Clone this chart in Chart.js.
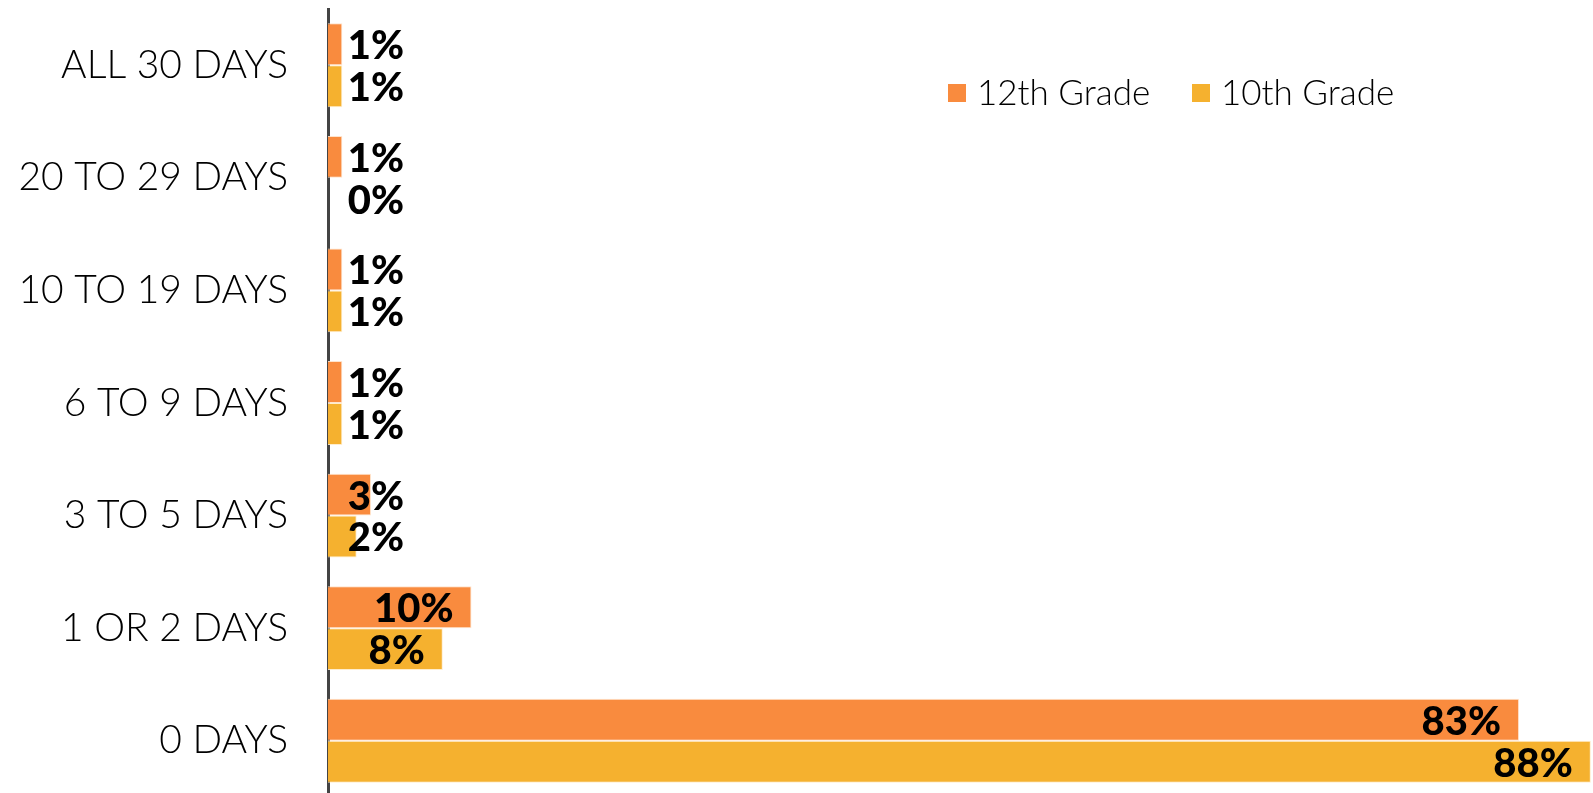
<!DOCTYPE html>
<html>
<head>
<meta charset="utf-8">
<script src="https://cdn.jsdelivr.net/npm/chart.js@4.4.1/dist/chart.umd.min.js"></script>
<style>
  html, body { margin: 0; padding: 0; background: #fff; overflow: hidden; }
  #wrap { position: relative; width: 1593px; height: 800px; }
</style>
</head>
<body>
<div id="wrap"><canvas id="chart"></canvas></div>
<script>
const categories = ['ALL 30 DAYS', '20 TO 29 DAYS', '10 TO 19 DAYS', '6 TO 9 DAYS', '3 TO 5 DAYS', '1 OR 2 DAYS', '0 DAYS'];
const grade12 = [1, 1, 1, 1, 3, 10, 83];
const grade10 = [1, 0, 1, 1, 2, 8, 88];
const seriesNames = ['12th Grade', '10th Grade'];
const seriesColors = ['#F98B3E', '#F5B12F'];

const fontFamily = 'Lato, "Open Sans", sans-serif';

const labelPlugin = {
  id: 'valueLabels',
  afterDatasetsDraw(chart) {
    const ctx = chart.ctx;
    const left = chart.chartArea.left;
    ctx.save();
    ctx.fillStyle = '#000';
    ctx.font = '900 40px ' + fontFamily;
    ctx.textAlign = 'right';
    ctx.textBaseline = 'middle';
    chart.data.datasets.forEach((ds, di) => {
      const meta = chart.getDatasetMeta(di);
      meta.data.forEach((bar, i) => {
        const x = Math.max(bar.x - 18, left + 76);
        ctx.fillText(ds.data[i] + '%', x, bar.y + 2);
      });
    });

    // legend sits inside the plot, top right
    ctx.font = '300 35px ' + fontFamily;
    ctx.textAlign = 'left';
    const legendX = [948, 1192];
    legendX.forEach((x, i) => {
      ctx.fillStyle = seriesColors[i];
      ctx.fillRect(x, 84, 18, 18);
      ctx.fillStyle = '#000';
      ctx.fillText(seriesNames[i], x + 29, 94);
    });
    ctx.restore();
  }
};

new Chart(document.getElementById('chart'), {
  type: 'bar',
  data: {
    labels: categories,
    datasets: [
      {
        label: seriesNames[0],
        data: grade12,
        backgroundColor: seriesColors[0],
        borderColor: 'rgba(255,225,200,0.9)',
        borderWidth: 1,
        categoryPercentage: 0.745,
        barPercentage: 1.0,
      },
      {
        label: seriesNames[1],
        data: grade10,
        backgroundColor: seriesColors[1],
        borderColor: 'rgba(255,235,200,0.9)',
        borderWidth: 1,
        categoryPercentage: 0.745,
        barPercentage: 1.0,
      },
    ],
  },
  options: {
    indexAxis: 'y',
    responsive: true,
    maintainAspectRatio: false,
    animation: false,
    layout: { autoPadding: false, padding: { top: 9, bottom: 3, left: 0, right: 0 } },
    plugins: {
      legend: { display: false },
      tooltip: { enabled: false },
    },
    scales: {
      x: {
        display: false,
        min: 0,
        max: 88.15,
        grid: { display: false },
      },
      y: {
        grid: { display: false, drawTicks: false },
        border: { display: true, color: '#444', width: 3 },
        ticks: {
          color: '#000',
          padding: 40,
          font: { family: fontFamily, size: 39, weight: '300' },
        },
        afterFit(scale) {
          scale.width = 328;
          scale.paddingTop = 0;
          scale.paddingBottom = 0;
        },
      },
    },
  },
  plugins: [labelPlugin],
});
</script>
</body>
</html>
